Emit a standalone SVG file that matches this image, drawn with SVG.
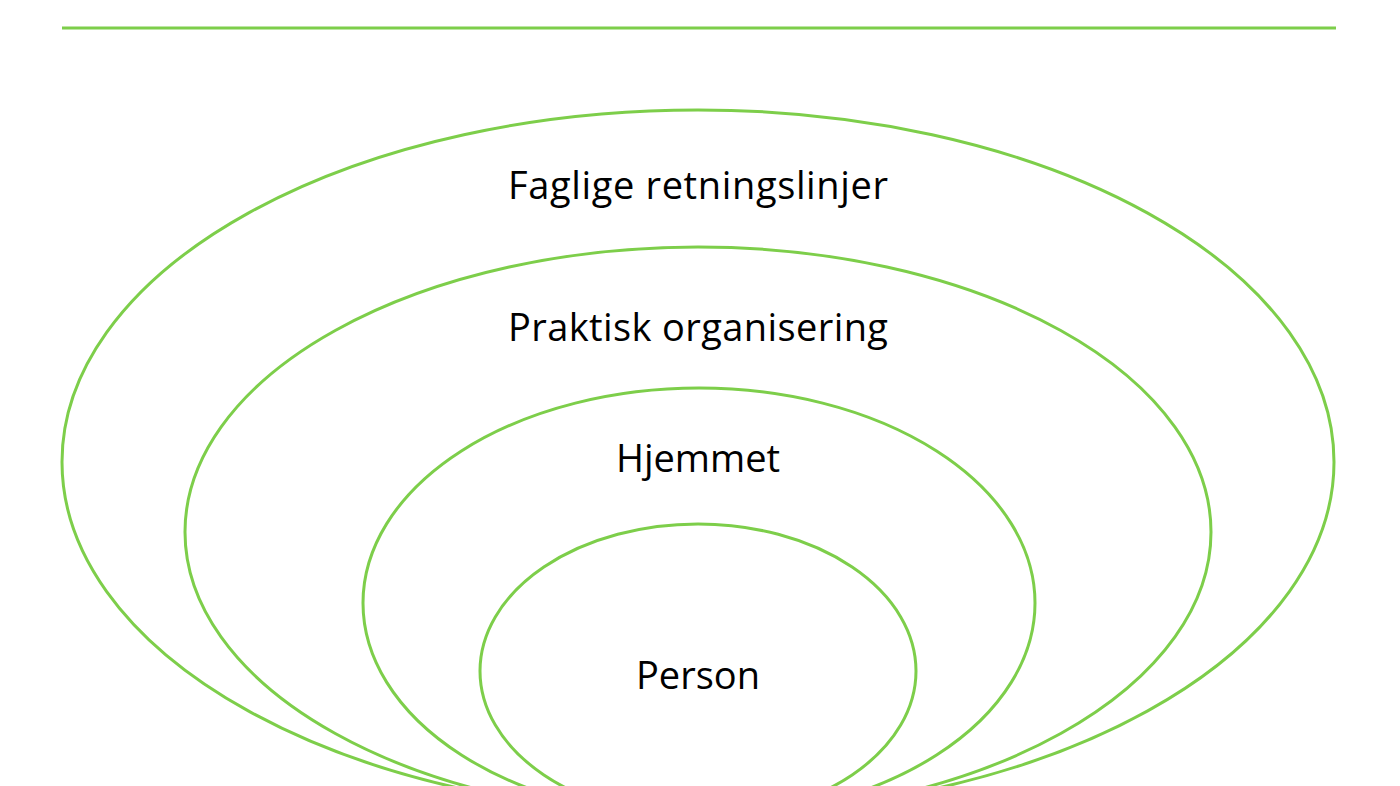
<svg xmlns="http://www.w3.org/2000/svg" width="1400" height="786" viewBox="0 0 1400 786">
<style>
.r{fill:none;stroke:#7DCE4A;stroke-width:3}
.t{font-family:"Open Sans","Liberation Sans",sans-serif;font-size:38px;fill:#000;text-anchor:middle}
</style>
<rect width="1400" height="786" fill="#fff"/>
<line x1="62" y1="28" x2="1336" y2="28" stroke="#7DCE4A" stroke-width="3"/>
<g id="faglige"><ellipse class="r" cx="698" cy="462" rx="636" ry="352"/><text class="t" x="698" y="199" textLength="380">Faglige retningslinjer</text></g>
<g id="praktisk"><ellipse class="r" cx="698" cy="532" rx="513" ry="285"/><text class="t" x="698" y="341" textLength="380">Praktisk organisering</text></g>
<g id="hjemmet"><ellipse class="r" cx="699" cy="603" rx="336" ry="215"/><text class="t" x="698" y="472">Hjemmet</text></g>
<g id="person"><ellipse class="r" cx="698" cy="671" rx="218" ry="147"/><text class="t" x="698" y="689">Person</text></g>
<g id="connectors"/>
</svg>
